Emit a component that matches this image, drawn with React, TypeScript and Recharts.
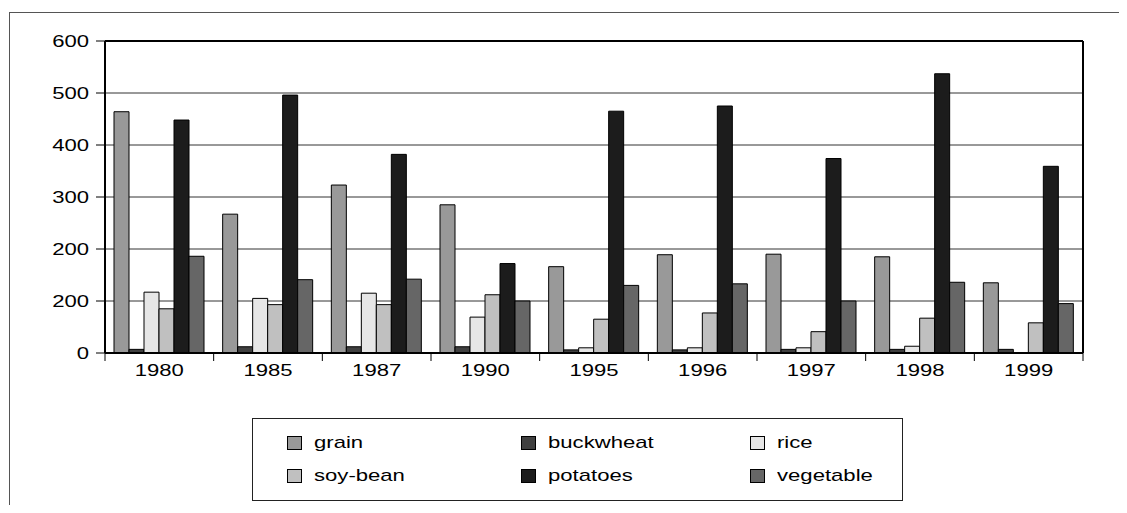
import { BarChart, Bar, XAxis, YAxis, CartesianGrid, Legend, ReferenceLine } from 'recharts';

const years = ['1980', '1985', '1987', '1990', '1995', '1996', '1997', '1998', '1999'];
const grain = [464, 267, 323, 285, 166, 189, 190, 185, 135];
const buckwheat = [7, 12, 12, 12, 6, 6, 7, 7, 7];
const rice = [117, 105, 115, 69, 10, 10, 10, 13, 0];
const soyBean = [85, 93, 93, 112, 65, 77, 41, 67, 58];
const potatoes = [448, 496, 382, 172, 465, 475, 374, 537, 359];
const vegetable = [186, 141, 142, 100, 130, 133, 100, 136, 95];

const yTicks = [0, 100, 200, 300, 400, 500, 600];
const yTickLabels = ['0', '200', '200', '300', '400', '500', '600'];

const series = [
  { key: 'grain', name: 'grain', color: '#999999' },
  { key: 'buckwheat', name: 'buckwheat', color: '#404040' },
  { key: 'rice', name: 'rice', color: '#e6e6e6' },
  { key: 'soyBean', name: 'soy-bean', color: '#c0c0c0' },
  { key: 'potatoes', name: 'potatoes', color: '#1c1c1c' },
  { key: 'vegetable', name: 'vegetable', color: '#666666' },
];

const data = years.map((year, i) => ({
  year,
  grain: grain[i],
  buckwheat: buckwheat[i],
  rice: rice[i],
  soyBean: soyBean[i],
  potatoes: potatoes[i],
  vegetable: vegetable[i],
}));

const W = 1111;
const H = 497;
const MARGIN = { top: 33, right: 36, left: 0, bottom: 122 };
const Y_W = 97;
const PLOT_W = W - MARGIN.right - Y_W;
const FONT = '"Liberation Sans", Arial, sans-serif';
const STRETCH = 1.3;

function YTick(props: any) {
  const { x, y, index } = props;
  return (
    <text
      transform={`translate(${x},${y + 6}) scale(${STRETCH},1)`}
      textAnchor="end"
      fontSize={17}
      fontFamily={FONT}
      fill="#000"
    >
      {yTickLabels[index]}
    </text>
  );
}

function XTick(props: any) {
  const { x, y, payload, index } = props;
  const band = PLOT_W / years.length;
  const axisY = y - 10;
  const left = x - band / 2;
  return (
    <g>
      <line x1={left} y1={axisY} x2={left} y2={axisY + 8} stroke="#000" />
      {index === years.length - 1 && (
        <line x1={x + band / 2} y1={axisY} x2={x + band / 2} y2={axisY + 8} stroke="#000" />
      )}
      <text
        transform={`translate(${x},${y + 13}) scale(${STRETCH},1)`}
        textAnchor="middle"
        fontSize={17}
        fontFamily={FONT}
        fill="#000"
      >
        {payload.value}
      </text>
    </g>
  );
}

const colX = [34, 268, 497];
const rowY = [24, 57];

function LegendBox() {
  return (
    <div
      style={{
        position: 'relative',
        width: 651,
        height: 83,
        boxSizing: 'border-box',
        border: '1px solid #222',
        background: '#fff',
      }}
    >
      {series.map((s, i) => (
        <div
          key={s.key}
          style={{
            position: 'absolute',
            left: colX[i % 3],
            top: rowY[Math.floor(i / 3)] - 8,
            height: 16,
            display: 'flex',
            alignItems: 'center',
          }}
        >
          <span
            style={{
              display: 'inline-block',
              width: 15,
              height: 14,
              boxSizing: 'border-box',
              border: '1px solid #000',
              background: s.color,
            }}
          />
          <span
            style={{
              marginLeft: 12,
              fontFamily: FONT,
              fontSize: 17,
              color: '#000',
              whiteSpace: 'nowrap',
              transform: `scaleX(${STRETCH})`,
              transformOrigin: 'left center',
            }}
          >
            {s.name}
          </span>
        </div>
      ))}
    </div>
  );
}

export default function App() {
  return (
    <div style={{ position: 'relative', width: W, height: H, background: '#fff' }}>
      <style>{'html,body{overflow:hidden}'}</style>
      <div
        style={{
          position: 'absolute',
          left: 1,
          top: 4,
          width: 1118,
          height: 501,
          borderLeft: '1px solid #555',
          borderTop: '1px solid #555',
          boxSizing: 'border-box',
        }}
      />
      <BarChart width={W} height={H} data={data} margin={MARGIN} barGap={0} barSize={15}>
        <CartesianGrid vertical={false} stroke="#333" />
        <CartesianGrid
          horizontal={false}
          stroke="#000"
          strokeWidth={2}
          verticalCoordinatesGenerator={({ offset }: any) => [offset.left + offset.width]}
        />
        <ReferenceLine y={600} stroke="#000" strokeWidth={2} />
        <XAxis
          dataKey="year"
          height={30}
          axisLine={{ stroke: '#000', strokeWidth: 2 }}
          tickLine={false}
          tickSize={8}
          tickMargin={2}
          tick={<XTick />}
          interval={0}
        />
        <YAxis
          width={Y_W}
          domain={[0, 600]}
          ticks={yTicks}
          interval={0}
          axisLine={{ stroke: '#000', strokeWidth: 2 }}
          tickLine={{ stroke: '#000' }}
          tickSize={9}
          tickMargin={7}
          tick={<YTick />}
        />
        <Legend
          layout="horizontal"
          verticalAlign="middle"
          align="center"
          wrapperStyle={{ left: 244, top: 410, width: 651, height: 83 }}
          content={() => <LegendBox />}
        />
        {series.map((s) => (
          <Bar
            key={s.key}
            dataKey={s.key}
            name={s.name}
            fill={s.color}
            stroke="#000"
            strokeWidth={1}
            isAnimationActive={false}
          />
        ))}
      </BarChart>
    </div>
  );
}
